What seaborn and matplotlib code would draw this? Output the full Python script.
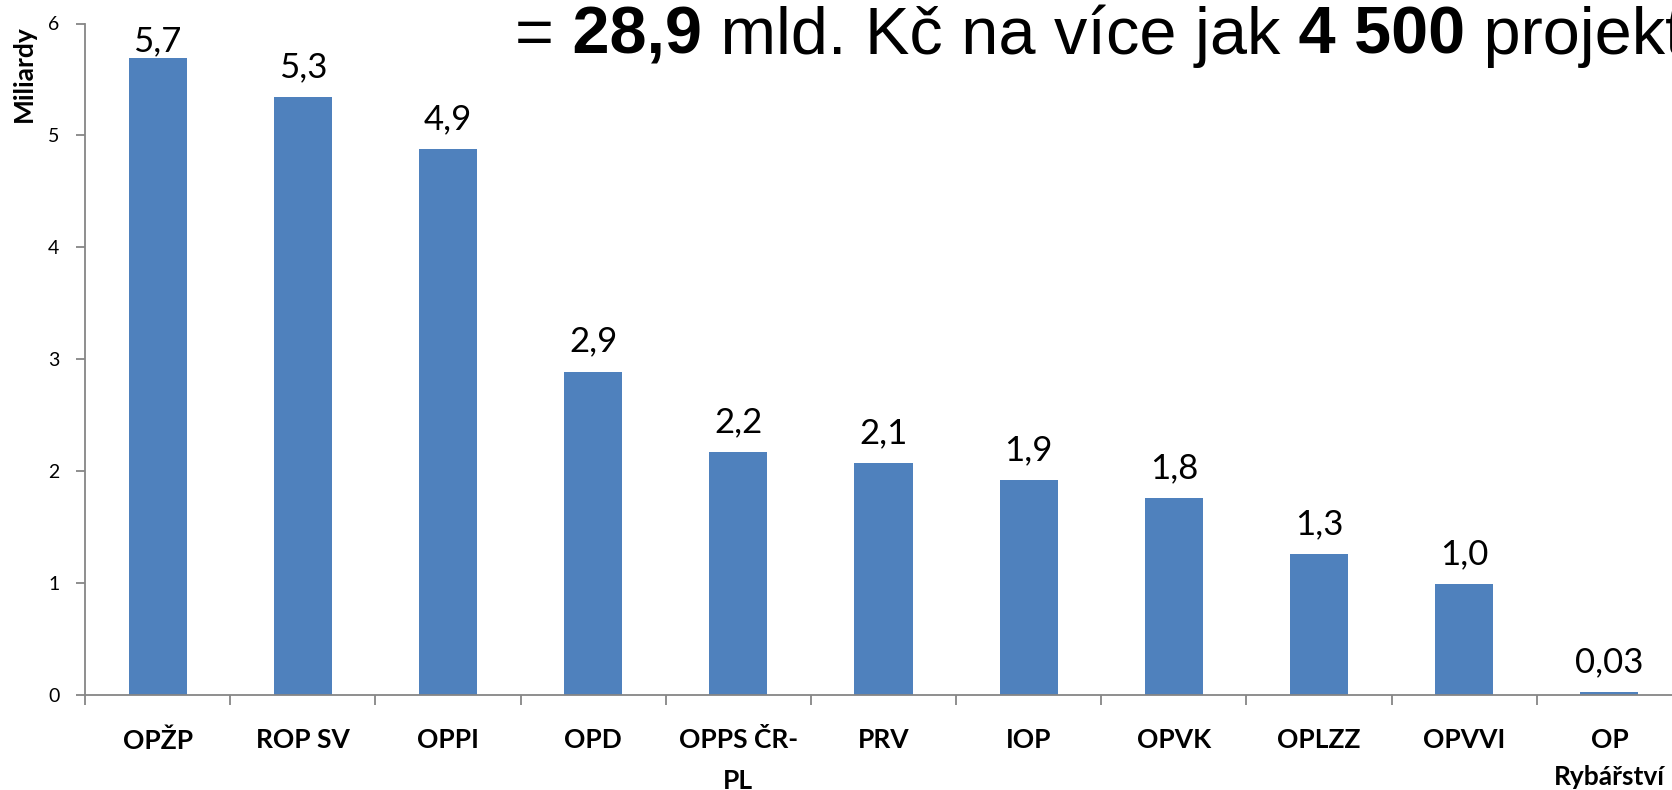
import matplotlib
matplotlib.use("Agg")
import matplotlib.pyplot as plt
import numpy as np
import pandas as pd
import seaborn as sns

# chart data
CATEGORIES = ["OPŽP", "ROP SV", "OPPI", "OPD", "OPPS ČR-\nPL", "PRV", "IOP",
              "OPVK", "OPLZZ", "OPVVI", "OP\nRybářství"]
VALUES = [5.69, 5.34, 4.88, 2.89, 2.17, 2.07, 1.92, 1.76, 1.26, 0.99, 0.03]
VALUE_LABELS = ["5,7", "5,3", "4,9", "2,9", "2,2", "2,1", "1,9", "1,8", "1,3", "1,0", "0,03"]
Y_TICKS = [0, 1, 2, 3, 4, 5, 6]
Y_LABEL = "Miliardy"
HEADLINE = [("=", "normal"), (" 28,9", "bold"), (" mld. Kč na více jak", "normal"),
            (" 4 500", "bold"), (" projektů", "normal")]

BAR_COLOR = "#4F81BD"
AXIS_COLOR = "#868686"
FONT = ["Lato", "DejaVu Sans"]
HEAD_FONT = ["Liberation Sans", "DejaVu Sans"]

sns.set_theme(style="white")
plt.rcParams["font.family"] = FONT

df = pd.DataFrame({"program": CATEGORIES, "value": VALUES})

W, H = 1672, 790
fig = plt.figure(figsize=(W / 100, H / 100), dpi=100)
# plot area runs a little past the right edge, as in the cropped original
ax = fig.add_axes([85 / W, 95 / H, 1597 / W, 671.5 / H])

sns.barplot(data=df, x="program", y="value", color=BAR_COLOR, saturation=1,
            width=0.4, linewidth=0, errorbar=None, ax=ax)

ax.set_xlim(-0.5, len(CATEGORIES) - 0.5)
ax.set_ylim(0, 6)
ax.set_yticks(Y_TICKS)
ax.set_xlabel("")
ax.set_ylabel(Y_LABEL, fontsize=19, fontweight="bold", color="black")
ax.yaxis.set_label_coords(-0.031, 0.925)

sns.despine(ax=ax)
for side in ("left", "bottom"):
    ax.spines[side].set_color(AXIS_COLOR)
    ax.spines[side].set_linewidth(1.3)

ax.tick_params(axis="y", left=True, length=6.5, width=1.3, color=AXIS_COLOR,
               direction="out", pad=12, labelsize=14, labelcolor="black")

# category names under the bars, tick marks between the bars
ax.set_xticks(range(len(CATEGORIES)), labels=CATEGORIES, fontsize=19,
              fontweight="bold", va="top", linespacing=1.85, color="black")
ax.tick_params(axis="x", which="major", length=0, pad=24)
ax.set_xticks(np.arange(-0.5, len(CATEGORIES)), minor=True)
ax.tick_params(axis="x", which="minor", bottom=True, length=7.2, width=1.3,
               color=AXIS_COLOR, direction="out")
# accented second line sits a bit low otherwise
ax.get_xticklabels()[-1].set_linespacing(1.62)

texts = ax.bar_label(ax.containers[0], labels=VALUE_LABELS, padding=10,
                     fontsize=25, color="black")
# tallest label is squeezed against the top of the plot area
texts[0].xyann = (0, 1.0)

# headline with bold numbers, pieces chained one after another
prev = fig.text(515 / W, 1 - 54 / H, HEADLINE[0][0], fontsize=48,
                family=HEAD_FONT, va="baseline", ha="left", color="black")
for piece, weight in HEADLINE[1:]:
    prev = ax.annotate(piece, xy=(1, 0), xycoords=prev, va="bottom", ha="left",
                       fontsize=48, fontweight=weight, family=HEAD_FONT,
                       color="black", annotation_clip=False)

fig.savefig("out.png", dpi=100)
